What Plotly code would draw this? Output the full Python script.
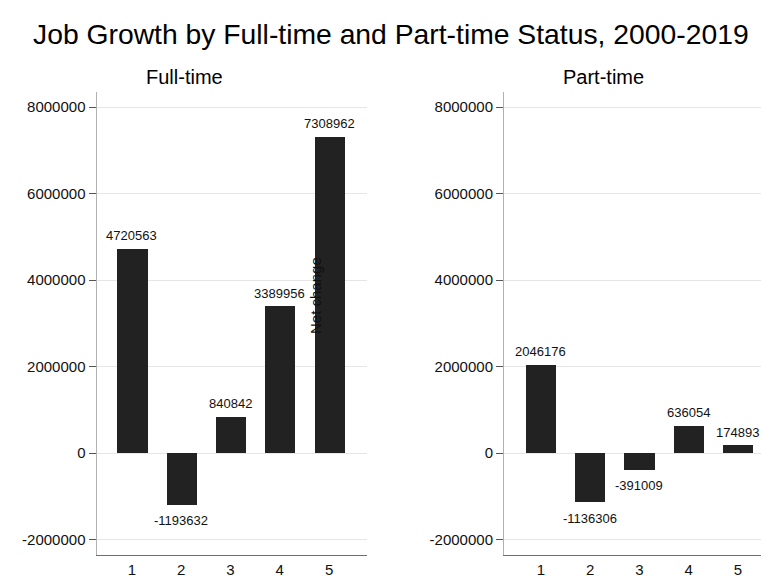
import plotly.graph_objects as go

# ---- data ----
categories = [1, 2, 3, 4, 5]
full_time = [4720563, -1193632, 840842, 3389956, 7308962]
part_time = [2046176, -1136306, -391009, 636054, 174893]
y_tick_vals = [-2000000, 0, 2000000, 4000000, 6000000, 8000000]
y_tick_labels = ["-2000000", "0", "2000000", "4000000", "6000000", "8000000"]
panel_titles = ["Full-time", "Part-time"]
main_title = "Job Growth by Full-time and Part-time Status, 2000-2019"
y_title = "Net change"

# ---- geometry helpers ----
W, H = 761, 578
MT, MB = 92, 23
plot_h = H - MT - MB


def px_x(p):
    return p / W


def px_y(p):
    return (H - MB - p) / plot_h


FONT = "Liberation Sans, Arial, Helvetica, sans-serif"
bar_color = "#222222"

fig = go.Figure()
label_annotations = []
for vals, xa, ya in [(full_time, "x", "y"), (part_time, "x2", "y2")]:
    fig.add_trace(go.Bar(
        x=categories, y=vals, xaxis=xa, yaxis=ya,
        marker=dict(color=bar_color, line=dict(width=0)),
        width=0.61,
        cliponaxis=False,
        showlegend=False,
        hoverinfo="x+y",
    ))
    for c, v in zip(categories, vals):
        label_annotations.append(dict(
            text=str(v), xref=xa, yref=ya, x=c, y=v,
            xanchor="center", yanchor="middle",
            yshift=13 if v >= 0 else -16,
            showarrow=False,
            font=dict(size=13, color="#111111", family=FONT),
        ))

y_range = [-2358000, 8347000]

common_x = dict(
    tickvals=categories, ticktext=[str(c) for c in categories],
    showgrid=False, zeroline=False, showline=True, linecolor="#6e6e6e", linewidth=1,
    ticks="", tickfont=dict(size=15, color="#111111"), ticklabelstandoff=1,
    fixedrange=True,
)
common_y = dict(
    range=y_range, tickvals=y_tick_vals, ticktext=y_tick_labels,
    showgrid=True, gridcolor="#e6e6e6", gridwidth=1,
    zeroline=False, showline=True, linecolor="#b0b0b0", linewidth=1,
    ticks="outside", ticklen=7, tickcolor="#555555", tickwidth=1,
    tickfont=dict(size=15, color="#111111"), domain=[0, 1], fixedrange=True,
)

fig.update_layout(
    width=W, height=H,
    margin=dict(l=0, r=0, t=MT, b=MB, autoexpand=False),
    paper_bgcolor="white", plot_bgcolor="white",
    font=dict(family=FONT, color="#111111"),
    bargap=0,
    xaxis=dict(domain=[px_x(96.5), px_x(367)], range=[0.28, 5.77], anchor="y", **common_x),
    yaxis=dict(anchor="x", **common_y),
    xaxis2=dict(domain=[px_x(504), 1.0], range=[0.25, 5.467], anchor="y2", **common_x),
    yaxis2=dict(anchor="x2", **common_y),
    annotations=[
        dict(text=main_title, xref="paper", yref="paper", x=px_x(31), y=px_y(34),
             xanchor="left", yanchor="middle", showarrow=False,
             font=dict(size=28.3, color="#000000")),
        dict(text=panel_titles[0], xref="paper", yref="paper", x=px_x(184), y=px_y(77),
             xanchor="center", yanchor="middle", showarrow=False,
             font=dict(size=20, color="#000000")),
        dict(text=panel_titles[1], xref="paper", yref="paper", x=px_x(603), y=px_y(77),
             xanchor="center", yanchor="middle", showarrow=False,
             font=dict(size=20, color="#000000")),
        dict(text=y_title, xref="paper", yref="paper", x=px_x(315), y=px_y(296),
             xanchor="center", yanchor="middle", textangle=-90, showarrow=False,
             font=dict(size=15, color="#111111")),
    ] + label_annotations,
)

fig.write_html(
    "out.html",
    config={"displayModeBar": False},
    post_script="document.body.style.margin='0';document.body.style.overflow='hidden';",
)
